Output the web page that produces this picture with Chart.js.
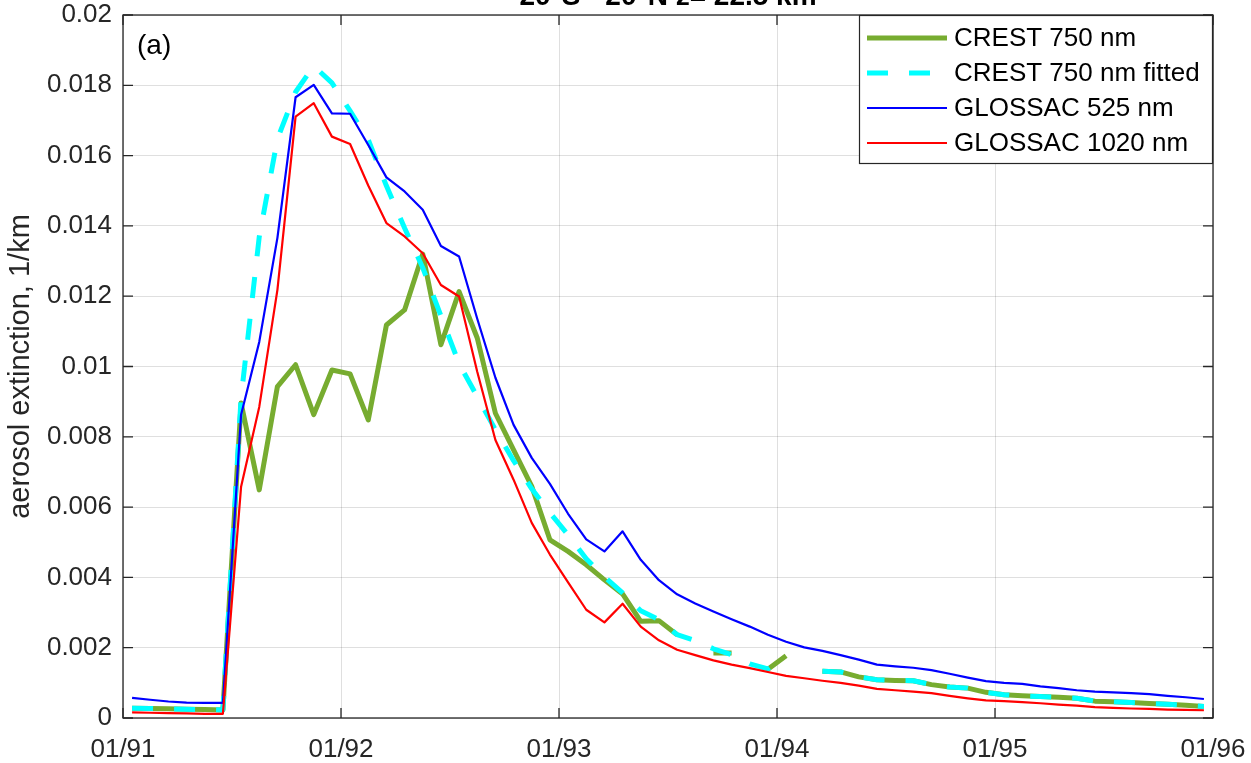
<!DOCTYPE html>
<html><head><meta charset="utf-8">
<script src="https://cdn.jsdelivr.net/npm/chart.js@4.4.1/dist/chart.umd.min.js"></script>
<style>html,body{margin:0;padding:0;background:#fff}#wrap{width:1251px;height:763px;position:relative}</style>
</head><body><div id="wrap"><canvas id="c"></canvas></div>
<script>
// ---- data ----
const xTickLabels = ['01/91', '01/92', '01/93', '01/94', '01/95', '01/96'];
const yTickLabels = ['0', '0.002', '0.004', '0.006', '0.008', '0.01', '0.012', '0.014', '0.016', '0.018', '0.02'];
const seriesNames = ['CREST 750 nm', 'CREST 750 nm fitted', 'GLOSSAC 525 nm', 'GLOSSAC 1020 nm'];
const titleText = '20°S - 20°N z= 22.5 km';
const panelLabel = '(a)';
const yAxisTitle = 'aerosol extinction, 1/km';

// monthly values Jan 1991 .. Dec 1995 (null = missing)
const crest750 = [
  0.00028, 0.00027, 0.00026, 0.00025, 0.00024, 0.00023,
  0.00896, 0.00649, 0.00943, 0.01005, 0.00863, 0.00990,
  0.00979, 0.00848, 0.01118, 0.01161, 0.01320, 0.01062,
  0.01213, 0.01081, 0.00867, 0.00763, 0.00659, 0.00507,
  0.00474, 0.00436, 0.00393, 0.00353, 0.00275, 0.00277,
  0.00237, null, 0.00185, 0.00185, null, 0.00139,
  0.00177, null, 0.00133, 0.00131, 0.00117, 0.00109,
  0.00107, 0.00106, 0.00095, 0.00088, 0.00085, 0.00073,
  0.00066, 0.00063, 0.00061, 0.00059, 0.00056, 0.00048,
  0.00046, 0.00044, 0.00041, 0.00039, 0.00036, 0.00033
];
const crest750Fitted = [
  0.00028, 0.00027, 0.00026, 0.00025, 0.00024, 0.00023,
  0.00911, 0.01369, 0.01647, 0.01781, 0.01855, 0.01807,
  0.01727, 0.01645, 0.01514, 0.01394, 0.01281, 0.01144,
  0.01008, 0.00914, 0.00820, 0.00732, 0.00652, 0.00584,
  0.00521, 0.00453, 0.00402, 0.00356, 0.00305, 0.00280,
  0.00237, 0.00220, 0.00197, 0.00180, 0.00154, 0.00140,
  0.00174, null, 0.00133, 0.00131, 0.00117, 0.00109,
  0.00107, 0.00106, 0.00095, 0.00088, 0.00085, 0.00073,
  0.00066, 0.00063, 0.00061, 0.00059, 0.00056, 0.00048,
  0.00046, 0.00044, 0.00041, 0.00039, 0.00036, 0.00033
];
const glossac525 = [
  0.00057, 0.00052, 0.00047, 0.00044, 0.00043, 0.00043,
  0.00863, 0.01070, 0.01366, 0.01766, 0.01801, 0.01720,
  0.01719, 0.01630, 0.01538, 0.01498, 0.01446, 0.01343,
  0.01313, 0.01136, 0.00968, 0.00834, 0.00740, 0.00666,
  0.00581, 0.00508, 0.00474, 0.00531, 0.00450, 0.00392,
  0.00352, 0.00326, 0.00303, 0.00281, 0.00260, 0.00237,
  0.00217, 0.00201, 0.00191, 0.00179, 0.00166, 0.00152,
  0.00147, 0.00143, 0.00136, 0.00126, 0.00115, 0.00105,
  0.00100, 0.00097, 0.00090, 0.00085, 0.00079, 0.00075,
  0.00073, 0.00071, 0.00068, 0.00063, 0.00059, 0.00054
];
const glossac1020 = [
  0.00016, 0.00015, 0.00014, 0.00013, 0.00012, 0.00012,
  0.00658, 0.00885, 0.01218, 0.01711, 0.01749, 0.01654,
  0.01633, 0.01515, 0.01408, 0.01370, 0.01322, 0.01232,
  0.01199, 0.00985, 0.00791, 0.00678, 0.00555, 0.00465,
  0.00386, 0.00308, 0.00272, 0.00325, 0.00260, 0.00221,
  0.00194, 0.00179, 0.00164, 0.00152, 0.00142, 0.00131,
  0.00120, 0.00113, 0.00106, 0.00100, 0.00092, 0.00083,
  0.00079, 0.00075, 0.00071, 0.00063, 0.00056, 0.00050,
  0.00048, 0.00045, 0.00042, 0.00038, 0.00035, 0.00031,
  0.00029, 0.00027, 0.00026, 0.00024, 0.00023, 0.00022
];

// ---- rendering ----
const FONT = "'Liberation Sans', Arial, Helvetica, sans-serif";
const AX = '#262626';
const toPts = arr => arr.map((v, i) => ({ x: i + 0.5, y: v }));

const matlabPlugin = {
  id: 'matlabPlugin',
  beforeDatasetsDraw(chart) {
    const { ctx, chartArea: a, scales: { x, y } } = chart;
    ctx.save();
    ctx.strokeStyle = AX; ctx.lineWidth = 1.3;
    const tl = 10;
    ctx.beginPath();
    x.ticks.forEach(t => {
      const px = x.getPixelForValue(t.value);
      ctx.moveTo(px, a.bottom); ctx.lineTo(px, a.bottom - tl);
      ctx.moveTo(px, a.top); ctx.lineTo(px, a.top + tl);
    });
    y.ticks.forEach(t => {
      const py = y.getPixelForValue(t.value);
      ctx.moveTo(a.left, py); ctx.lineTo(a.left + tl, py);
      ctx.moveTo(a.right, py); ctx.lineTo(a.right - tl, py);
    });
    ctx.stroke();
    ctx.strokeRect(a.left, a.top, a.right - a.left, a.bottom - a.top);
    ctx.restore();
  },
  afterDraw(chart) {
    const { ctx, chartArea: a } = chart;
    ctx.save();
    // title (partly above the canvas, as in the reference)
    ctx.fillStyle = '#000';
    ctx.font = 'bold 28px ' + FONT;
    ctx.textAlign = 'center'; ctx.textBaseline = 'alphabetic';
    ctx.fillText(titleText, (a.left + a.right) / 2, 5);
    // panel label
    ctx.font = '28px ' + FONT;
    ctx.textAlign = 'left';
    ctx.fillStyle = '#000';
    ctx.fillText(panelLabel, a.left + 14, a.top + 39);
    // legend
    const bw = 354, bh = 149;
    const bx = a.right - bw, by = a.top;
    ctx.fillStyle = '#fff';
    ctx.fillRect(bx, by, bw, bh);
    ctx.strokeStyle = AX; ctx.lineWidth = 1.2;
    ctx.strokeRect(bx + 0.5, by + 0.5, bw - 1, bh - 1);
    const order = [0, 1, 2, 3];
    order.forEach((di, k) => {
      const ds = chart.data.datasets[di];
      const yy = by + 23 + k * 35;
      ctx.save();
      ctx.beginPath();
      ctx.strokeStyle = ds.borderColor;
      ctx.lineWidth = ds.borderWidth;
      ctx.setLineDash(ds.borderDash || []);
      ctx.lineCap = 'butt';
      ctx.moveTo(bx + 8, yy); ctx.lineTo(bx + 88, yy);
      ctx.stroke();
      ctx.restore();
      ctx.fillStyle = '#000';
      ctx.font = '26px ' + FONT;
      ctx.textAlign = 'left'; ctx.textBaseline = 'middle';
      ctx.fillText(ds.label, bx + 95, yy + 1);
    });
    ctx.restore();
  }
};

new Chart(document.getElementById('c'), {
  type: 'line',
  data: {
    datasets: [
      { label: seriesNames[0], data: toPts(crest750), borderColor: '#77AC30', borderWidth: 5, order: 4 },
      { label: seriesNames[1], data: toPts(crest750Fitted), borderColor: '#00FFFF', borderWidth: 5, borderDash: [21, 21], order: 3 },
      { label: seriesNames[2], data: toPts(glossac525), borderColor: '#0000FF', borderWidth: 2.2, order: 2 },
      { label: seriesNames[3], data: toPts(glossac1020), borderColor: '#FF0000', borderWidth: 2.2, order: 1 }
    ]
  },
  options: {
    responsive: true,
    maintainAspectRatio: false,
    animation: false,
    spanGaps: false,
    elements: { point: { radius: 0 }, line: { tension: 0, borderJoinStyle: 'round', borderCapStyle: 'butt', fill: false } },
    layout: { padding: { left: 0, top: 15, right: 38, bottom: 0 } },
    plugins: { legend: { display: false }, tooltip: { enabled: false }, title: { display: false } },
    scales: {
      x: {
        type: 'linear', min: 0, max: 60,
        afterFit: s => { s.height = 45; s.paddingLeft = 0; s.paddingRight = 0; },
        ticks: {
          stepSize: 12, autoSkip: false, maxRotation: 0, padding: 16,
          color: AX, font: { family: FONT, size: 26 },
          callback: (v, i) => xTickLabels[i]
        },
        grid: { color: 'rgba(38,38,38,0.15)', lineWidth: 1, drawTicks: false },
        border: { display: false }
      },
      y: {
        type: 'linear', min: 0, max: 0.02,
        afterFit: s => { s.width = 123; s.paddingTop = 0; s.paddingBottom = 0; },
        ticks: {
          stepSize: 0.002, autoSkip: false, padding: 11,
          color: AX, font: { family: FONT, size: 26 },
          callback: (v, i) => yTickLabels[i]
        },
        grid: { color: 'rgba(38,38,38,0.15)', lineWidth: 1, drawTicks: false },
        border: { display: false },
        title: { display: true, text: yAxisTitle, color: AX, font: { family: FONT, size: 29 }, padding: { top: 4, bottom: 0 } }
      }
    }
  },
  plugins: [matlabPlugin]
});
</script>
</body></html>
